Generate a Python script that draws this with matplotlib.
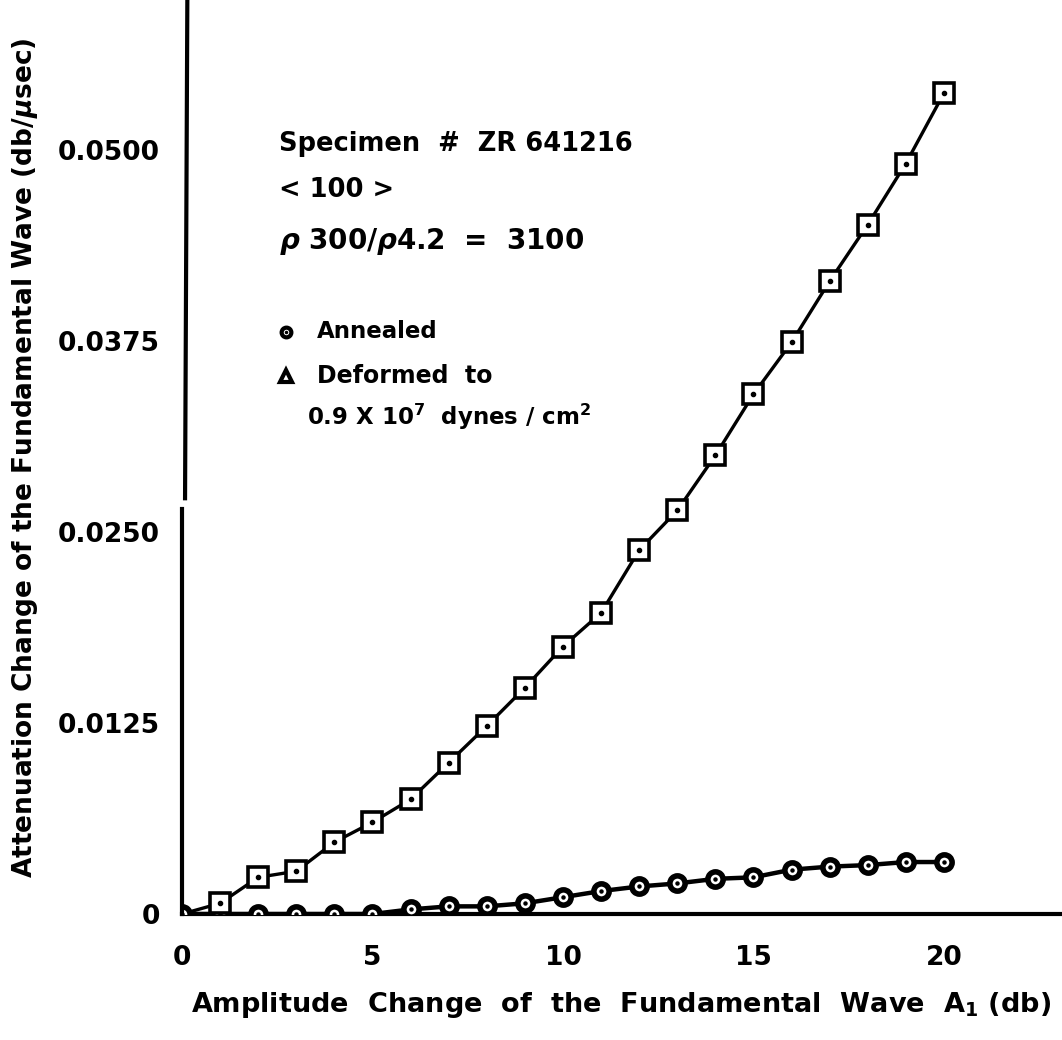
import numpy as np
import matplotlib
matplotlib.use("Agg")
import matplotlib.pyplot as plt

# amplitude change of the fundamental wave A1 (db)
amp = np.arange(0, 21)

# attenuation change (db/usec), annealed specimen (circles)
annealed = [0.0, 0.0, 0.0, 0.0, 0.0, 0.0, 0.0003, 0.0005, 0.0005, 0.0007,
            0.0011, 0.0015, 0.0018, 0.0020, 0.0023, 0.0024, 0.0029, 0.0031,
            0.0032, 0.0034, 0.0034]

# attenuation change (db/usec), deformed specimen (squares)
deformed = [0.0, 0.0007, 0.0024, 0.0028, 0.0047, 0.0060, 0.0075, 0.0099,
            0.0123, 0.0148, 0.0175, 0.0197, 0.0238, 0.0264, 0.0300, 0.0340,
            0.0374, 0.0414, 0.0451, 0.0491, 0.0537]

xticks = [0, 5, 10, 15, 20]
yticks = [0, 0.0125, 0.0250, 0.0375, 0.0500]
ytick_labels = ["0", "0.0125", "0.0250", "0.0375", "0.0500"]

plt.rcParams["font.family"] = ["DejaVu Sans"]
plt.rcParams["font.weight"] = "bold"

W, H = 1062, 1040
fig = plt.figure(figsize=(W / 100, H / 100), dpi=100)
ax = fig.add_axes([182 / W, 126 / H, 880 / W, 914 / H])

ax.set_xlim(0, 23.1)
ax.set_ylim(0, 0.0598)

# curves
ax.plot(amp, annealed, color="black", lw=3.2, zorder=2)
ax.plot(amp, deformed, color="black", lw=2.4, zorder=2)

# open circles with a tiny centre dot
ax.plot(amp, annealed, ls="none", marker="o", ms=11, mew=4,
        mfc="white", mec="black", zorder=3)
ax.plot(amp, annealed, ls="none", marker="o", ms=2.2, color="black", zorder=4)

# open squares with a centre dot (first point on the origin has none)
ax.plot(amp[1:], deformed[1:], ls="none", marker="s", ms=14, mew=2.6,
        mfc="white", mec="black", zorder=3)
ax.plot(amp[1:], deformed[1:], ls="none", marker="o", ms=3, color="black",
        zorder=4)

# axes: broken left spine, plain bottom spine
for s in ["top", "right", "left"]:
    ax.spines[s].set_visible(False)
ax.spines["bottom"].set_linewidth(3)
ax.plot([0, 0], [0, 0.0265], color="black", lw=3, clip_on=False, zorder=5)
ax.plot([0.08, 0.14], [0.0272, 0.0598], color="black", lw=3, clip_on=False,
        zorder=5)

ax.set_xticks(xticks)
ax.set_xticklabels([str(t) for t in xticks])
ax.set_yticks(yticks)
ax.set_yticklabels(ytick_labels)
ax.tick_params(axis="both", length=0, labelsize=19, width=0)
ax.tick_params(axis="y", pad=16)
ax.tick_params(axis="x", pad=22)

fig.text(25 / W, 1 - 458 / H,
         "Attenuation Change of the Fundamental Wave (db/$\\mu$sec)",
         rotation=90, ha="center", va="center", fontsize=19,
         fontweight="bold")
fig.text(621 / W, 1 - 1005 / H,
         "Amplitude  Change  of  the  Fundamental  Wave  A$_{\\mathregular{1}}$ (db)",
         ha="center", va="center", fontsize=19.5, fontweight="bold")

# specimen notes
tx = 2.55
ax.text(tx, 0.0504, "Specimen  #  ZR 641216", fontsize=18.5, va="center",
        fontweight="bold")
ax.text(tx, 0.0474, "< 100 >", fontsize=18.5, va="center", fontweight="bold")
ax.text(tx, 0.0440, "$\\rho$ 300/$\\rho$4.2  =  3100", fontsize=20,
        va="center", fontweight="bold")

# key
ax.plot([2.72], [0.0381], ls="none", marker="o", ms=7, mew=3, mfc="white",
        mec="black", clip_on=False)
ax.plot([2.72], [0.0381], ls="none", marker="o", ms=1.5, color="black")
ax.text(3.55, 0.0381, "Annealed", fontsize=16.5, va="center",
        fontweight="bold")
ax.plot([2.72], [0.0352], ls="none", marker="^", ms=9, mew=3,
        mfc="white", mec="black")
ax.text(3.55, 0.0352, "Deformed  to", fontsize=17, va="center",
        fontweight="bold")
ax.text(3.28, 0.0325,
        "0.9 X 10$^{\\mathregular{7}}$  dynes / cm$^{\\mathregular{2}}$",
        fontsize=16.5, va="center", fontweight="bold")

fig.savefig("out.png", dpi=100, facecolor="white")
